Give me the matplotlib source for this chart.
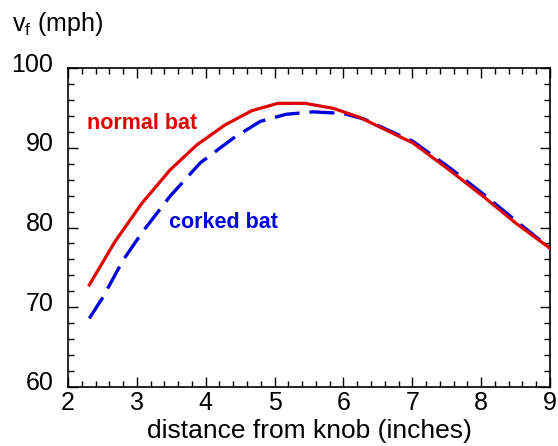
import numpy as np
import matplotlib.pyplot as plt
import matplotlib.transforms as mtransforms
from matplotlib.ticker import MultipleLocator

# values
x_normal = [2.31, 2.68, 3.07, 3.48, 3.87, 4.28, 4.67, 5.05, 5.44, 5.85, 6.24, 6.6, 7.01, 7.54, 8.03, 8.51, 9.0]
v_normal = [72.8, 78.2, 83.0, 87.2, 90.35, 92.86, 94.65, 95.57, 95.57, 94.95, 93.8, 92.3, 90.6, 87.2, 83.9, 80.5, 77.4]

x_corked = [2.31, 2.51, 2.80, 3.07, 3.48, 3.92, 4.40, 4.79, 5.17, 5.56, 6.0, 6.3, 6.6, 7.01, 7.54, 8.03, 8.51, 9.0]
v_corked = [68.6, 71.3, 75.9, 79.3, 83.9, 88.1, 91.2, 93.3, 94.2, 94.5, 94.3, 93.6, 92.4, 90.8, 87.5, 84.2, 80.8, 77.4]

plt.rcParams['font.family'] = ['Liberation Sans', 'DejaVu Sans']

fig = plt.figure(figsize=(5.58, 4.46), dpi=100)
ax = fig.add_axes([68/558, 59/446, 482/558, 319/446])

ax.plot(x_corked, v_corked, color='#0000dd', lw=2.4, dashes=(7.5, 3), zorder=3)
ax.plot(x_normal, v_normal, color='#e00000', lw=2.3, zorder=4)

ax.set_xlim(2, 9)
ax.set_ylim(60, 100)
ax.xaxis.set_major_locator(MultipleLocator(1))
ax.xaxis.set_minor_locator(MultipleLocator(0.2))
ax.yaxis.set_major_locator(MultipleLocator(10))
ax.yaxis.set_minor_locator(MultipleLocator(2))
ax.tick_params(which='both', direction='in', top=True, right=True, labelsize=18, width=1)
ax.tick_params(which='major', length=7)
ax.tick_params(which='minor', length=4)
ax.tick_params(axis='y', pad=10.5)
ax.tick_params(axis='x', pad=3)
for s in ax.spines.values():
    s.set_linewidth(1.2)

# y tick labels sit a little above their ticks in the original
shift = mtransforms.ScaledTranslation(0, 6/100, fig.dpi_scale_trans)
for lab in ax.get_yticklabels():
    lab.set_transform(lab.get_transform() + shift)

ax.set_xlabel('distance from knob (inches)', fontsize=19, labelpad=2.5)
fig.text(12/558, 1 - 24/446, r'$\mathregular{v_f}$ (mph)', fontsize=18, va='center', ha='left')

ax.text(2.27, 93.1, 'normal bat', color='#e00000', fontsize=15.5, fontweight='bold', va='center')
ax.text(3.47, 80.6, 'corked bat', color='#0000dd', fontsize=15.5, fontweight='bold', va='center')

fig.savefig('out.png', dpi=100)
